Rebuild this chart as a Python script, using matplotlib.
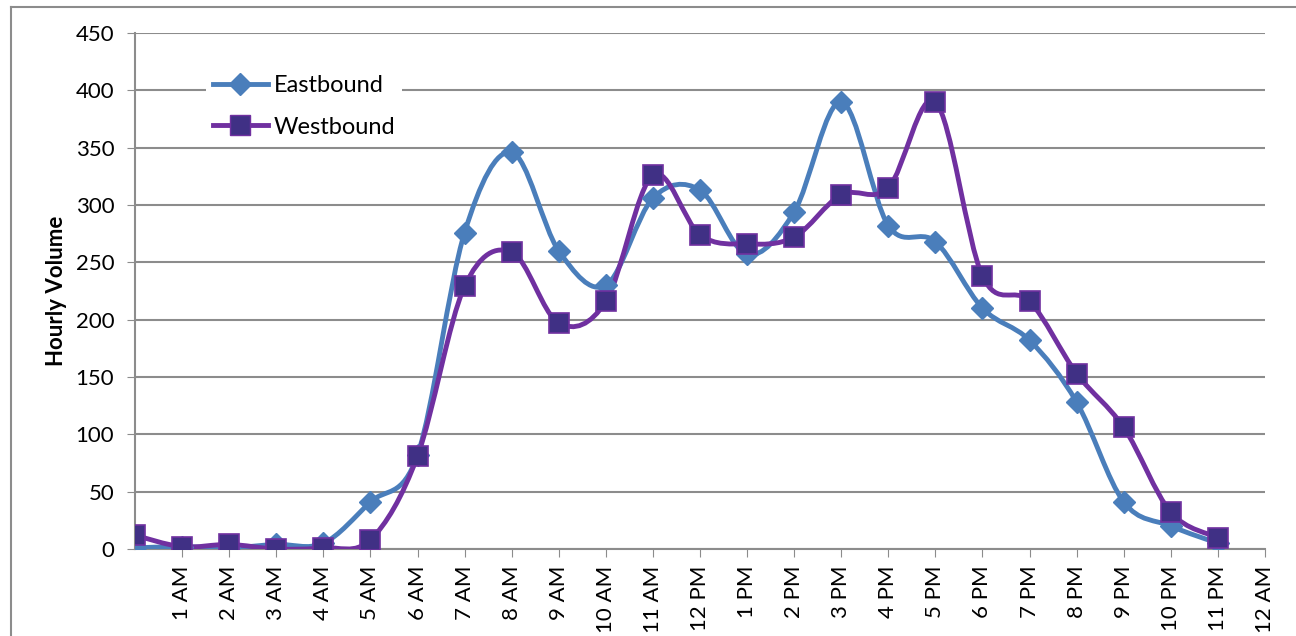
import matplotlib
matplotlib.use('Agg')
import matplotlib.pyplot as plt
from matplotlib.path import Path
from matplotlib.patches import PathPatch
from matplotlib.lines import Line2D
import numpy as np

plt.rcParams['font.family'] = ['Lato', 'DejaVu Sans']

hours = list(range(24))
tick_labels = ['1 AM', '2 AM', '3 AM', '4 AM', '5 AM', '6 AM', '7 AM', '8 AM',
               '9 AM', '10 AM', '11 AM', '12 PM', '1 PM', '2 PM', '3 PM', '4 PM',
               '5 PM', '6 PM', '7 PM', '8 PM', '9 PM', '10 PM', '11 PM', '12 AM']
eastbound = [1, 2, 1, 4, 5, 41, 82, 276, 346, 260, 230, 306, 313, 257, 294, 390,
             282, 268, 210, 182, 128, 41, 20, 5]
westbound = [12, 2, 4, 0, 1, 8, 81, 229, 259, 197, 216, 326, 274, 266, 272, 309,
             315, 390, 238, 216, 153, 106, 32, 10]

east_color = '#4A7EBB'
west_color = '#7030A0'
west_fill = '#403085'
grid_color = '#8C8C8C'


def smooth_path(x, y):
    # bezier segments through every point, like the smoothed lines in a spreadsheet
    pts = np.column_stack([x, y]).astype(float)
    n = len(pts)
    verts = [pts[0]]
    codes = [Path.MOVETO]
    for i in range(n - 1):
        p0 = pts[i - 1] if i > 0 else pts[i]
        p1 = pts[i]
        p2 = pts[i + 1]
        p3 = pts[i + 2] if i + 2 < n else pts[i + 1]
        c1 = p1 + (p2 - p0) / 6.0
        c2 = p2 - (p3 - p1) / 6.0
        verts += [c1, c2, p2]
        codes += [Path.CURVE4] * 3
    return Path(verts, codes)


fig = plt.figure(figsize=(12.96, 6.36), dpi=100)
ax = fig.add_axes([135 / 1296, 1 - 549 / 636, 1130 / 1296, 516 / 636])

for vals, col in [(eastbound, east_color), (westbound, west_color)]:
    ax.add_patch(PathPatch(smooth_path(hours, vals), facecolor='none',
                           edgecolor=col, lw=3.5, capstyle='round', zorder=3))

ax.plot(hours, eastbound, linestyle='none', marker='D', markersize=11,
        color=east_color, mec=east_color, zorder=4)
ax.plot(hours, westbound, linestyle='none', marker='s', markersize=14,
        color=west_fill, mec=west_color, mew=1.2, zorder=5)

ax.set_xlim(0, 24)
ax.set_ylim(0, 450)
ax.set_yticks(range(0, 451, 50))
ax.set_xticks(range(1, 25))
ax.set_xticklabels(tick_labels, rotation=90, fontsize=16)
ax.tick_params(axis='y', labelsize=16, length=6, color=grid_color, pad=9)
ax.tick_params(axis='x', length=6, color=grid_color, pad=6)
ax.yaxis.grid(True, color=grid_color, lw=1.5)
ax.set_axisbelow(True)
for s in ['top', 'right']:
    ax.spines[s].set_visible(False)
for s in ['left', 'bottom']:
    ax.spines[s].set_color(grid_color)
    ax.spines[s].set_linewidth(1.5)
ax.set_ylabel('Hourly Volume', fontsize=16, fontweight='bold', labelpad=6)

handles = [
    Line2D([], [], color=east_color, lw=3.5, marker='D', markersize=11, mec=east_color),
    Line2D([], [], color=west_color, lw=3.5, marker='s', markersize=14,
           markerfacecolor=west_fill, mec=west_color),
]
leg = ax.legend(handles, ['Eastbound', 'Westbound'], loc='upper left',
                bbox_to_anchor=(0.063, 0.932), borderaxespad=0, borderpad=0.3,
                fontsize=17, frameon=True, fancybox=False, edgecolor='none',
                framealpha=1, handlelength=2.3, handletextpad=0.25,
                labelspacing=0.87)

# outer chart border
fig.add_artist(Line2D([11 / 1296, 11 / 1296], [0, 1 - 7 / 636], color=grid_color,
                      lw=1.5, transform=fig.transFigure))
fig.add_artist(Line2D([11 / 1296, 1], [1 - 7 / 636, 1 - 7 / 636], color=grid_color,
                      lw=1.5, transform=fig.transFigure))

fig.savefig('out.png', dpi=100)
